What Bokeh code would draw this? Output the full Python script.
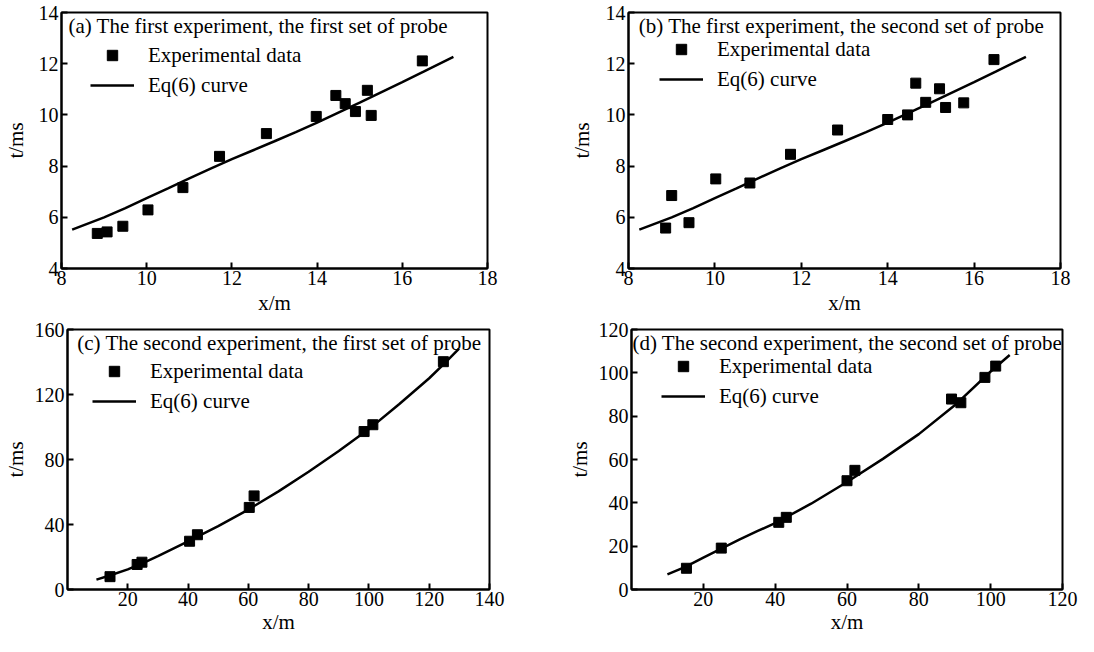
from bokeh.plotting import figure
from bokeh.layouts import column, row
from bokeh.models import Range1d, FixedTicker, Legend, LegendItem, Label
from bokeh.embed import file_html
from bokeh.resources import INLINE

FONT = "Liberation Serif"

# ---------------- data ----------------
titles = [
    "(a) The first experiment, the first set of probe",
    "(b) The first experiment, the second set of probe",
    "(c) The second experiment, the first set of probe",
    "(d) The second experiment, the second set of probe",
]
legend_labels = ["Experimental data", "Eq(6) curve"]
x_label = "x/m"
y_label = "t/ms"

a_x = [8.84, 9.07, 9.44, 10.03, 10.85, 11.71, 12.81, 13.98, 14.44, 14.66, 14.90, 15.18, 15.27, 16.47]
a_y = [5.37, 5.43, 5.65, 6.29, 7.16, 8.38, 9.27, 9.94, 10.76, 10.44, 10.13, 10.96, 9.98, 12.11]

b_x = [8.86, 9.00, 9.40, 10.02, 10.81, 11.75, 12.84, 14.00, 14.46, 14.65, 14.88, 15.20, 15.34, 15.76, 16.46]
b_y = [5.58, 6.85, 5.79, 7.50, 7.34, 8.46, 9.41, 9.82, 10.00, 11.24, 10.49, 11.02, 10.29, 10.47, 12.16]

ab_curve_x = [8.25, 9.0, 9.5, 10.0, 10.5, 11.0, 11.5, 12.0, 12.5, 13.0, 13.5, 14.0,
              14.5, 15.0, 15.5, 16.0, 16.5, 17.2]
ab_curve_y = [5.52, 6.00, 6.36, 6.75, 7.13, 7.52, 7.90, 8.27, 8.62, 8.97, 9.33, 9.70,
              10.09, 10.48, 10.88, 11.28, 11.69, 12.27]

c_x = [14.1, 23.1, 24.7, 40.5, 43.1, 60.3, 61.9, 98.4, 101.3, 124.7]
c_y = [7.9, 15.4, 16.8, 29.7, 33.7, 50.5, 57.6, 97.2, 101.4, 140.2]
c_curve_x = [9.6, 14, 20, 25, 30, 40, 50, 60, 70, 80, 90, 100, 110, 120, 125, 129.9]
c_curve_y = [6.1, 8.6, 12.4, 16.2, 20.6, 29.6, 39.0, 49.2, 60.4, 72.5, 85.2, 98.7, 114.0, 130.0, 139.0, 148.3]

d_x = [15.3, 25.0, 41.0, 43.1, 60.0, 62.2, 89.1, 91.7, 98.4, 101.4]
d_y = [9.8, 19.1, 31.0, 33.3, 50.2, 55.0, 87.9, 86.2, 97.9, 103.1]
d_curve_x = [10, 15, 20, 25, 30, 35, 40, 50, 60, 70, 80, 90, 100, 105.3]
d_curve_y = [7.0, 10.4, 14.7, 18.9, 23.0, 26.9, 30.6, 39.6, 49.6, 60.3, 71.7, 85.0, 100.6, 108.2]

ab_xticks = [8, 10, 12, 14, 16, 18]
ab_yticks = [4, 6, 8, 10, 12, 14]
c_xticks = [20, 40, 60, 80, 100, 120, 140]
c_yticks = [0, 40, 80, 120, 160]
d_xticks = [20, 40, 60, 80, 100, 120]
d_yticks = [0, 20, 40, 60, 80, 100, 120]

ITEM_H = 26
SPACING = 4
TOP = 12


def make_panel(origin, size, borders, xr, yr, xticks, yticks, px, py, cx, cy,
               title, title_pos, legend_pos, ylab_standoff, xlab_standoff):
    width, height = size
    left, right, bottom = borders
    p = figure(width=width, height=height, output_backend="svg", toolbar_location=None,
               x_range=Range1d(*xr), y_range=Range1d(*yr),
               min_border_left=left, min_border_right=right,
               min_border_top=TOP, min_border_bottom=bottom,
               background_fill_color="white", border_fill_color="white")
    p.grid.visible = False
    p.outline_line_color = "black"
    p.outline_line_width = 2
    p.outline_line_alpha = 1
    for ax in (p.xaxis[0], p.yaxis[0]):
        ax.axis_line_width = 2
        ax.axis_line_color = "black"
        ax.major_tick_in = 6
        ax.major_tick_out = 0
        ax.major_tick_line_width = 2
        ax.major_tick_line_color = "black"
        ax.minor_tick_line_color = None
        ax.major_label_text_font = FONT
        ax.major_label_text_font_size = "20px"
        ax.major_label_text_color = "black"
        ax.major_label_text_line_height = 1.0
        ax.axis_label_text_font = FONT
        ax.axis_label_text_font_size = "21px"
        ax.axis_label_text_font_style = "normal"
        ax.axis_label_text_color = "black"
        ax.axis_label_text_line_height = 1.0
    p.xaxis.ticker = FixedTicker(ticks=xticks)
    p.yaxis.ticker = FixedTicker(ticks=yticks)
    p.xaxis.axis_label = x_label
    p.yaxis.axis_label = y_label
    p.xaxis.major_label_standoff = 2
    p.xaxis.axis_label_standoff = xlab_standoff
    p.yaxis.major_label_standoff = 3
    p.yaxis.axis_label_standoff = ylab_standoff

    fw = width - left - right
    fh = height - TOP - bottom
    fl = origin[0] + left
    ft = origin[1] + TOP
    fb = ft + fh

    def dx(pxl):
        return xr[0] + (pxl - fl) / fw * (xr[1] - xr[0])

    def dy(pyl):
        return yr[1] - (pyl - ft) / fh * (yr[1] - yr[0])

    r_line = p.line(cx, cy, line_color="black", line_width=2.5)
    r_sq = p.scatter(px, py, marker="square", size=10, fill_color="black", line_color="black")

    leg_h = 2 * ITEM_H + SPACING
    gx, gy = legend_pos
    loc = (round(gx - fl), round(fb - (gy - ITEM_H / 2 + leg_h)))
    legend = Legend(
        items=[LegendItem(label=legend_labels[0], renderers=[r_sq]),
               LegendItem(label=legend_labels[1], renderers=[r_line])],
        location=loc, glyph_width=44, glyph_height=ITEM_H, label_height=ITEM_H,
        label_standoff=14, spacing=SPACING, padding=0, margin=0,
        border_line_color=None, background_fill_alpha=0,
        label_text_font=FONT, label_text_font_size="21px", label_text_color="black")
    p.add_layout(legend)

    tx, ty = title_pos
    ty = max(ty, ft + 14)
    p.add_layout(Label(x=dx(tx), y=dy(ty), text=title, text_align="left",
                       text_baseline="middle", text_font=FONT,
                       text_font_size="21px", text_color="black"))
    return p


H1 = 317
H2 = 319
R2 = 8 + H1

pa = make_panel((8, 8), (552, H1), (54, 65, 46), (8, 18), (4, 14), ab_xticks, ab_yticks,
                a_x, a_y, ab_curve_x, ab_curve_y, titles[0],
                (69, 28.3), (90.6, 65.7), 8, 3)
pb = make_panel((560, 8), (526, H1), (76, 18, 46), (8, 18), (4, 14), ab_xticks, ab_yticks,
                b_x, b_y, ab_curve_x, ab_curve_y, titles[1],
                (646.3, 26), (667.2, 60.3), 9, 3)
pc = make_panel((8, R2), (552, H2), (58, 63, 43), (0, 140), (0, 160), c_xticks, c_yticks,
                c_x, c_y, c_curve_x, c_curve_y, titles[2],
                (76, 346), (91.3, 383.3), 4, 1)
pd = make_panel((560, R2), (526, H2), (79, 16, 43), (0, 120), (0, 120), d_xticks, d_yticks,
                d_x, d_y, d_curve_x, d_curve_y, titles[3],
                (640, 346), (669, 377.7), 4, 1)

layout = column(row(pa, pb), row(pc, pd))

open("out.html", "w").write(file_html(layout, INLINE))
